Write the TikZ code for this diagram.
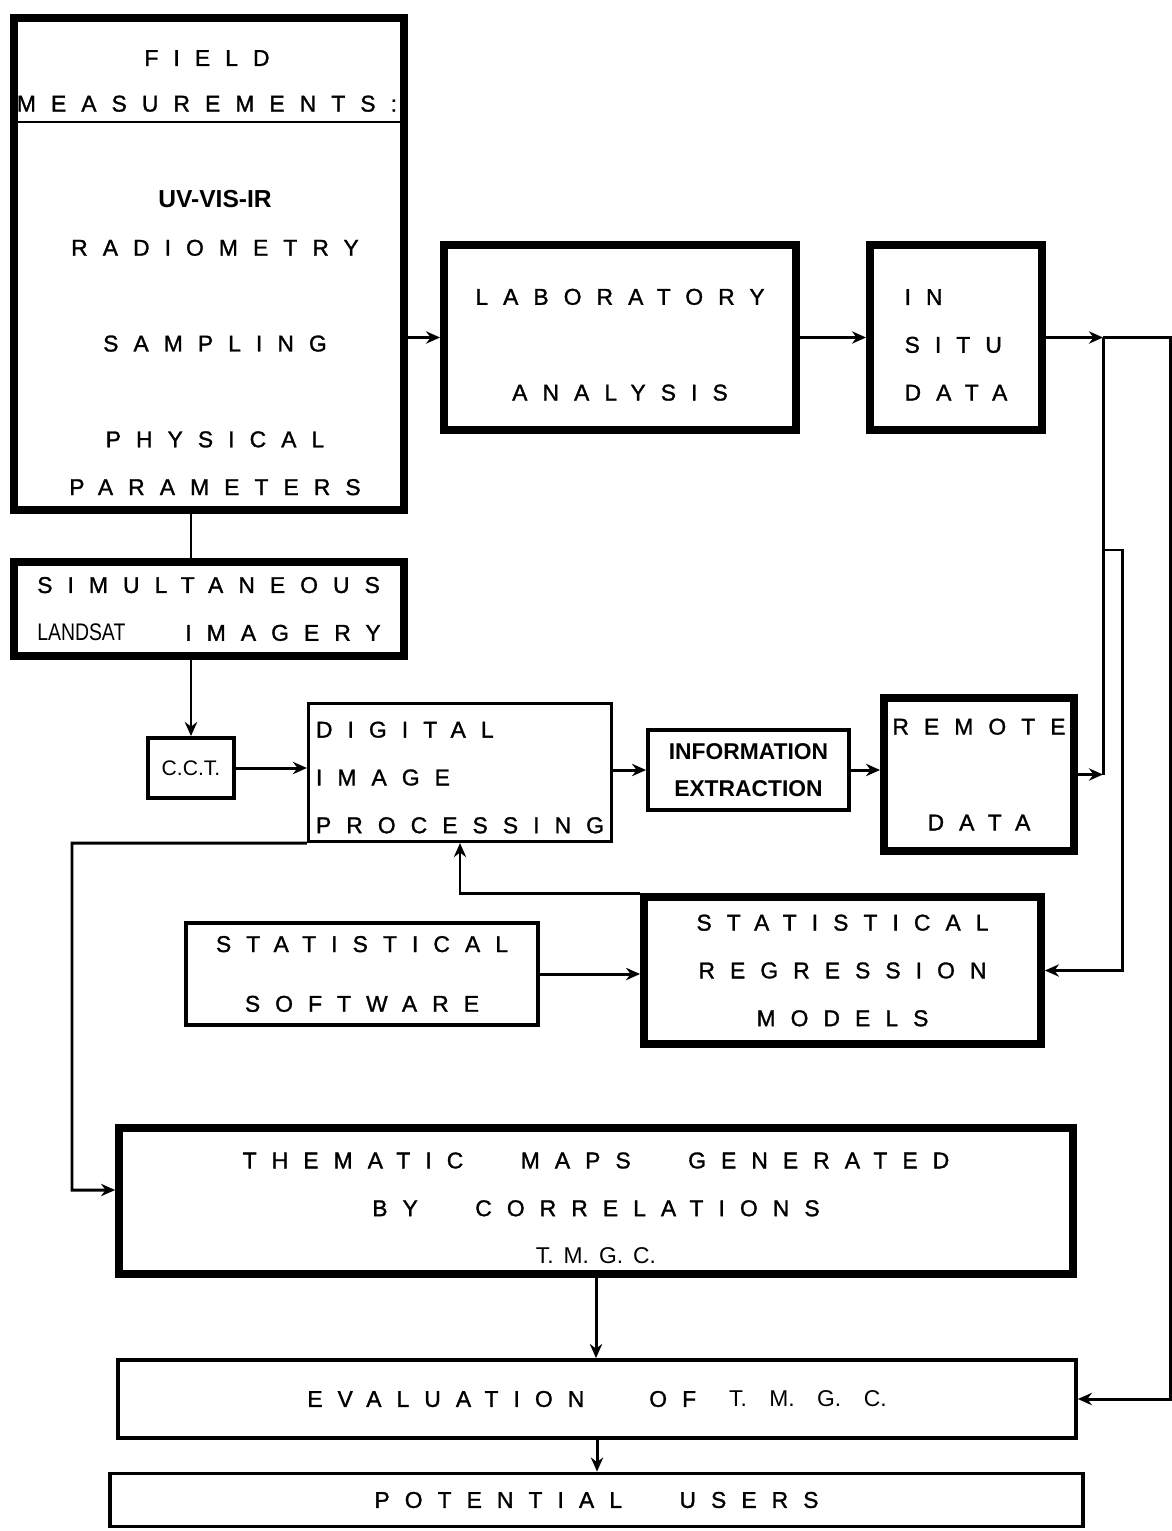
\documentclass[tikz,border=0pt]{standalone}
\usepackage{fontspec}
\usepackage{graphicx}
\setmainfont{Liberation Sans}
\newfontfamily\spaced[LetterSpace=66,FakeBold=1.3]{Liberation Sans}
\usetikzlibrary{arrows.meta}
\tikzset {>={Stealth[length=8pt,width=7pt]}}
\tikzset{
  heavy/.style={draw,line width=4.5pt,inner sep=0pt},
  light/.style={draw,line width=1.8pt,inner sep=0pt},
  words/.style={font=\spaced\fontsize{13}{27.2}\selectfont,align=center},
  link/.style={line width=1.7pt}
}
\newcommand*{\gap}{\hspace{1.15cm}}
\newcommand*{\lift}[1][0.61cm]{\rule{0pt}{#1}}

\begin{document}
\begin{tikzpicture}[x=0.02cm,y=-0.02cm]
\useasboundingbox (0,0) rectangle (1171,1531);
% field measurements
\node[heavy,minimum width=7.8cm,minimum height=9.84cm] (field) at (209,264) {};
\draw[link] (field.west |- 0,122) -- (field.east |- 0,122);
\node[words,font=\spaced\fontsize{13}{26}\selectfont] (fieldtitle) at (207,81) {FIELD\\MEASUREMENTS:};
\node[words] (fieldlist) at (215,343) {{\normalfont\bfseries\fontsize{14}{27.2}\selectfont UV-VIS-IR}\\RADIOMETRY\\[0.96cm]SAMPLING\\[0.96cm]PHYSICAL\\PARAMETERS};
\node[heavy,words,align=left,minimum width=7.8cm,minimum height=1.88cm] (simul) at (209,609) {SIMULTANEOUS\\{\normalfont\scalebox{0.85}[1.05]{LANDSAT}}\hspace{1.2cm}IMAGERY};
% processing chain
\node[light,line width=2.2pt,minimum width=1.72cm,minimum height=1.2cm,font=\fontsize{12}{14}\selectfont] (cct) at (191,768) {C.C.T.};
\node[light,words,align=left,minimum width=6.06cm,minimum height=2.76cm] (dip) at (460,772.5) {\lift[0.52cm]DIGITAL\\IMAGE\\PROCESSING};
\node[light,line width=2.2pt,minimum width=4.02cm,minimum height=1.6cm,align=center,font=\bfseries\fontsize{13}{21}\selectfont] (info) at (748.5,770) {INFORMATION\\EXTRACTION};
\node[heavy,words,minimum width=3.8cm,minimum height=3.06cm] (remote) at (979,774.5) {REMOTE\\[0.96cm]DATA};
\node[heavy,words,minimum width=7.04cm,minimum height=3.7cm] (lab) at (620,337.5) {\lift LABORATORY\\[0.96cm]ANALYSIS};
\node[heavy,words,align=left,minimum width=3.44cm,minimum height=3.7cm] (insitu) at (956,337.5) {\lift IN\\SITU\\DATA};
\node[light,line width=2pt,words,font=\spaced\fontsize{13}{34}\selectfont,minimum width=7.04cm,minimum height=2.04cm] (software) at (362,974) {STATISTICAL\\SOFTWARE};
\node[heavy,words,minimum width=7.94cm,minimum height=2.94cm] (models) at (842.5,970.5) {STATISTICAL\\REGRESSION\\MODELS};
% outputs
\node[heavy,words,minimum width=19.08cm,minimum height=2.92cm] (maps) at (596,1201) {\lift THEMATIC\gap MAPS\gap GENERATED\\BY\gap CORRELATIONS\\{\normalfont T.\hspace{0.2cm}M.\hspace{0.2cm}G.\hspace{0.2cm}C.}};
\node[light,line width=2.2pt,words,minimum width=19.16cm,minimum height=1.56cm] (evaluation) at (597,1399) {EVALUATION\hspace{1.3cm}OF\hspace{0.66cm}{\normalfont T.\hspace{0.45cm}M.\hspace{0.45cm}G.\hspace{0.45cm}C.}};
\node[light,line width=2.2pt,words,minimum width=19.46cm,minimum height=1.06cm] (users) at (596.5,1500) {POTENTIAL\gap USERS};
% connectors
\coordinate (split) at (1103,337.5);
\coordinate (edge) at (1170,337.5);
\coordinate (remotein) at (1103,774.5);
\coordinate (branch) at (1103,550);
\coordinate (branchout) at (1122,550);
\coordinate (leftrail) at (72,843);
\draw[link] (field.south -| cct.north) -- (simul.north -| cct.north);
\draw[link,->] (simul.south -| cct.north) -- (cct.north);
\draw[link,->] (lab.west -| field.east) -- (lab.west);
\draw[link,->] (lab.east) -- (insitu.west);
\draw[link,->] (insitu.east) -- (split);
\draw[link,->] (split) -- (edge) |- (evaluation.east);
\draw[link] (split) -- (remotein);
\draw[link,->] (branch) -- (branchout) |- (models.east);
\draw[link,->] (cct.east) -- (cct.east -| dip.west);
\draw[link,->] (info.west -| dip.east) -- (info.west);
\draw[link,->] (info.east) -- (info.east -| remote.west);
\draw[link,->] (remote.east) -- (remotein);
\draw[link,->] (software.east) -- (software.east -| models.west);
\draw[link,->] (models.north west) -| (dip.south);
\draw[link,->] (dip.south west) -- (leftrail) |- ([yshift=0.22cm]maps.west);
\draw[link,->] (maps.south) -- (maps.south |- evaluation.north);
\draw[link,->] (evaluation.south) -- (evaluation.south |- users.north);
\end{tikzpicture}
\end{document}
